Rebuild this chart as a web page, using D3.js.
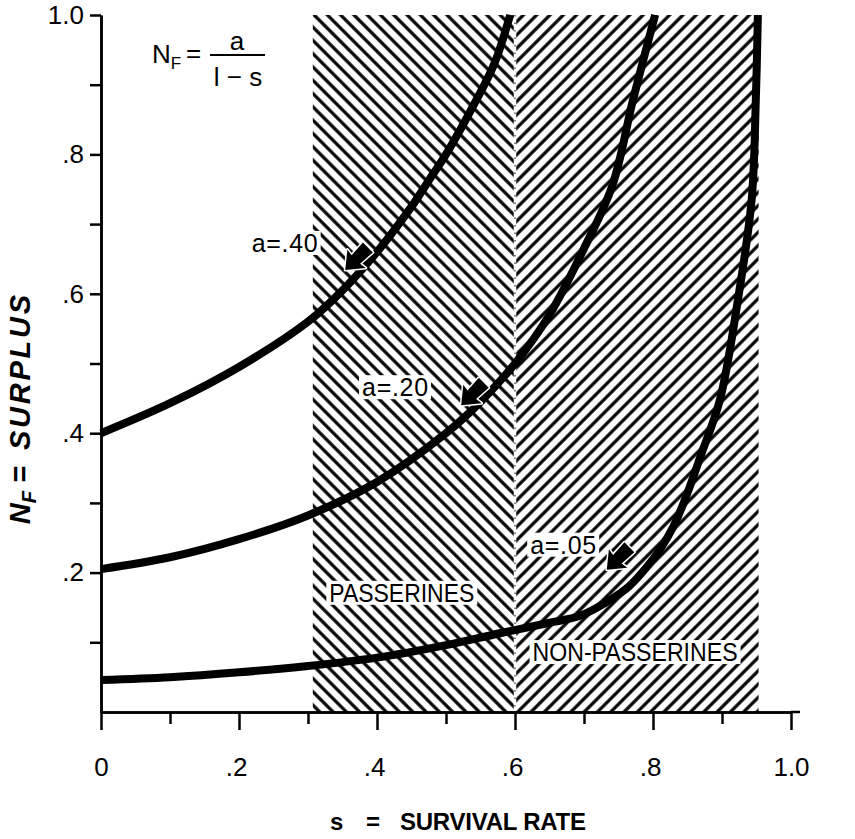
<!DOCTYPE html>
<html>
<head>
<meta charset="utf-8">
<script src="https://cdn.jsdelivr.net/npm/d3@7"></script>
<style>
  body { margin: 0; background: #fff; }
  svg text { font-family: "Liberation Sans", Arial, sans-serif; fill: #000; }
</style>
</head>
<body>
<svg id="chart" width="855" height="839"></svg>
<script>
// ---- data: [s, N_F] ----
var curveA40 = [[0, .40], [.1, .443], [.2, .495], [.3, .56], [.35, .605], [.4, .66], [.45, .725],
                [.48, .77], [.5, .80], [.545, .88], [.57, .93], [.593, 1.0]];
var curveA20 = [[0, .205], [.1, .222], [.2, .248], [.3, .282], [.4, .33], [.5, .40], [.55, .445],
                [.6, .50], [.65, .57], [.7, .665], [.741, .755], [.771, .878], [.803, 1.0]];
var curveA05 = [[0, .046], [.1, .05], [.2, .057], [.3, .066], [.4, .078], [.5, .096], [.578, .113],
                [.65, .128], [.694, .138], [.738, .161], [.765, .18], [.791, .208], [.81, .233],
                [.829, .265], [.846, .304], [.87, .37], [.897, .448], [.923, .591],
                [.943, .735], [.949, .878], [.952, 1.0]];
var curveNames = ["a=.40", "a=.20", "a=.05"];

var groupNames = ["PASSERINES", "NON-PASSERINES"];
var groupRanges = [[.307, .6], [.6, .953]];

var xMajorTicks = [0, .2, .4, .6, .8, 1.0];
var xMinorTicks = [.1, .3, .5, .7, .9];
var xTickLabels = ["0", ".2", ".4", ".6", ".8", "1.0"];
var yMajorTicks = [.2, .4, .6, .8, 1.0];
var yMinorTicks = [.1, .3, .5, .7, .9];
var yTickLabels = [".2", ".4", ".6", ".8", "1.0"];

// ---- layout ----
var svg = d3.select("#chart");
var x = d3.scaleLinear().domain([0, 1]).range([101, 791]);
var y = d3.scaleLinear().domain([0, 1]).range([712, 15]);

// where the curve labels / arrows sit (data units)
var labelSpots = [{s: .314, n: .673, anchor: "end"}, {s: .474, n: .466, anchor: "end"}, {s: .622, n: .240, anchor: "start"}];
var arrowSpots = [[.354, .634], [.522, .44], [.733, .204]];

// hatch patterns
var defs = svg.append("defs");
function hatch(id, angle) {
    var p = defs.append("pattern")
        .attr("id", id)
        .attr("patternUnits", "userSpaceOnUse")
        .attr("width", 9.4).attr("height", 9.4)
        .attr("patternTransform", "rotate(" + angle + ")");
    p.append("rect").attr("width", 9.4).attr("height", 9.4).attr("fill", "#fff");
    p.append("line").attr("x1", 4.7).attr("x2", 4.7).attr("y1", 0).attr("y2", 9.4)
        .attr("stroke", "#000").attr("stroke-width", 3.2);
}
hatch("back", -45);
hatch("fwd", 45);

var regions = svg.append("g");
regions.selectAll("rect")
    .data(groupRanges)
    .enter().append("rect")
    .attr("x", function(d) { return x(d[0]); })
    .attr("y", y(1))
    .attr("width", function(d) { return x(d[1]) - x(d[0]); })
    .attr("height", y(0) - y(1))
    .attr("fill", function(d, i) { return i == 0 ? "url(#back)" : "url(#fwd)"; });

// dotted divider between the two regions
regions.append("line")
    .attr("x1", x(.6)).attr("x2", x(.6))
    .attr("y1", y(1)).attr("y2", y(0))
    .attr("stroke", "#fff").attr("stroke-width", 2.5);
regions.append("line")
    .attr("x1", x(.6)).attr("x2", x(.6))
    .attr("y1", y(1)).attr("y2", y(0))
    .attr("stroke", "#000").attr("stroke-width", 1)
    .attr("stroke-dasharray", "1.5,6");

// text on a white patch
function boxedText(g, str, px, py, anchor, size, len, adjust) {
    var t = g.append("text")
        .attr("x", px).attr("y", py)
        .attr("text-anchor", anchor)
        .attr("dominant-baseline", "central")
        .style("font-size", size + "px")
        .text(str);
    if (len) t.attr("textLength", len).attr("lengthAdjust", adjust || "spacingAndGlyphs");
    var b = t.node().getBBox();
    g.insert("rect", "text")
        .attr("x", b.x - 3).attr("y", b.y + 2)
        .attr("width", b.width + 6).attr("height", b.height - 4)
        .attr("fill", "#fff");
    return t;
}

var labels = svg.append("g");
boxedText(labels, groupNames[0], x(.436), y(.171), "middle", 25, 145);
boxedText(labels, groupNames[1], x(.774), y(.086), "middle", 25, 205);

// curves
var line = d3.line()
    .x(function(d) { return x(d[0]); })
    .y(function(d) { return y(d[1]); })
    .curve(d3.curveCatmullRom);

svg.append("g").selectAll("path")
    .data([curveA40, curveA20, curveA05])
    .enter().append("path")
    .attr("d", line)
    .attr("fill", "none")
    .attr("stroke", "#000")
    .attr("stroke-width", 8);

// curve labels and arrows
var ann = svg.append("g");
curveNames.forEach(function(name, i) {
    var sp = labelSpots[i];
    boxedText(ann, name, x(sp.s), y(sp.n), sp.anchor, 25, 66, "spacing");
});
var arrowShape = [[0, 0], [-16, -13], [-15, -6], [-32, -7], [-32, 7], [-15, 6], [-16, 13]];
ann.selectAll("polygon")
    .data(arrowSpots)
    .enter().append("polygon")
    .attr("points", arrowShape.map(function(p) { return p.join(","); }).join(" "))
    .attr("transform", function(d) {
        return "translate(" + x(d[0]) + "," + y(d[1]) + ") rotate(135)";
    })
    .attr("fill", "#000")
    .attr("stroke", "#fff").attr("stroke-width", 3)
    .attr("stroke-linejoin", "round")
    .style("paint-order", "stroke");

// axes
var xMinor = d3.axisBottom(x).tickValues(xMinorTicks).tickSize(12).tickSizeOuter(0).tickFormat("");
var xMajor = d3.axisBottom(x).tickValues(xMajorTicks).tickSize(18).tickSizeOuter(0).tickPadding(28)
    .tickFormat(function(d, i) { return xTickLabels[i]; });
var yMinor = d3.axisLeft(y).tickValues(yMinorTicks).tickSize(11).tickSizeOuter(0).tickFormat("");
var yMajor = d3.axisLeft(y).tickValues(yMajorTicks).tickSize(11).tickSizeOuter(0).tickPadding(6)
    .tickFormat(function(d, i) { return yTickLabels[i]; });

var axes = svg.append("g");
axes.append("g").attr("transform", "translate(0," + y(0) + ")").call(xMinor);
var gxMajor = axes.append("g").attr("transform", "translate(0," + y(0) + ")").call(xMajor);
axes.append("g").attr("transform", "translate(" + x(0) + ",0)").call(yMinor);
axes.append("g").attr("transform", "translate(" + x(0) + ",0)").call(yMajor);
axes.append("line")
    .attr("x1", x(1)).attr("x2", x(1) + 9)
    .attr("y1", y(0)).attr("y2", y(0));
axes.selectAll("path, line").attr("stroke", "#000").attr("stroke-width", 2.5);
axes.selectAll("text").style("font-size", "26px").attr("fill", "#000");
gxMajor.selectAll("g.tick text")
    .filter(function() { return this.textContent.charAt(0) == "."; })
    .attr("dx", -3);

// formula, top-left
var f = svg.append("g").style("font-size", "26px");
f.append("text").attr("x", 152).attr("y", 63).text("N")
    .append("tspan").attr("dy", 6).style("font-size", "17px").text("F");
f.append("text").attr("x", 186).attr("y", 62).text("=");
f.append("line").attr("x1", 210).attr("x2", 265).attr("y1", 55).attr("y2", 55)
    .attr("stroke", "#000").attr("stroke-width", 2);
f.append("text").attr("x", 237).attr("y", 50).attr("text-anchor", "middle").text("a");
f.append("text").attr("x", 238).attr("y", 86).attr("text-anchor", "middle").text("l − s");

// axis titles
var yt = svg.append("g")
    .attr("transform", "translate(30,0) rotate(-90)")
    .style("font-size", "29px").style("font-weight", "bold").style("font-style", "italic");
yt.append("text")
    .attr("x", -450).attr("y", 0)
    .attr("textLength", 155).attr("lengthAdjust", "spacing")
    .text("SURPLUS");
yt.append("text")
    .attr("x", -466).attr("y", 0)
    .attr("text-anchor", "end")
    .text("N")
    .append("tspan").attr("dy", 6).style("font-size", "20px").text("F")
    .append("tspan").attr("dy", -6).style("font-size", "29px").text(" =");

var xt = svg.append("g").style("font-size", "24px").style("font-weight", "bold");
xt.append("text").attr("x", 330).attr("y", 830).text("s");
xt.append("text").attr("x", 366).attr("y", 830).text("=");
xt.append("text").attr("x", 400).attr("y", 830)
    .attr("textLength", 186).attr("lengthAdjust", "spacing")
    .text("SURVIVAL RATE");
</script>
</body>
</html>
